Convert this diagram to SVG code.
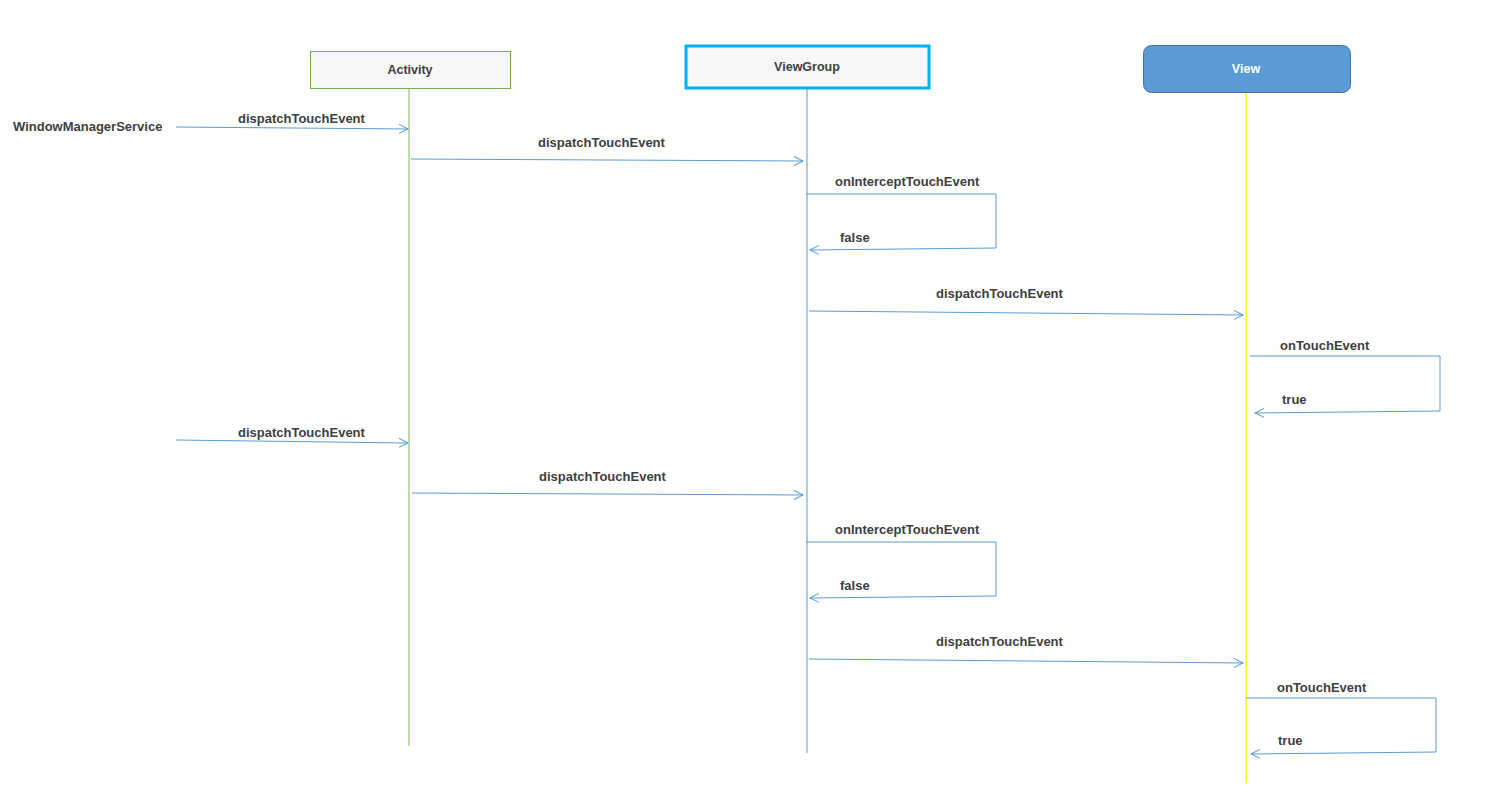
<svg xmlns="http://www.w3.org/2000/svg" width="1490" height="790" viewBox="0 0 1490 790">
  <style>
    .lbl { font-family: "Liberation Sans", Arial, sans-serif; font-size: 13px; font-weight: bold; fill: #404040; }
    .msg { fill: none; stroke: #5b9bd5; stroke-width: 1; marker-end: url(#open); }
    .head { font-family: "Liberation Sans", Arial, sans-serif; font-size: 12.5px; font-weight: bold; text-anchor: middle; }
  </style>
  <defs>
    <marker id="open" markerWidth="12" markerHeight="12" refX="10" refY="5" orient="auto" markerUnits="userSpaceOnUse">
      <polyline points="1,0.5 10,5 1,9.5" fill="none" stroke="#5b9bd5" stroke-width="1"/>
    </marker>
  </defs>
  <rect width="1490" height="790" fill="#ffffff"/>

  <!-- participants with lifelines -->
  <g id="activity">
    <line x1="409" y1="88" x2="409" y2="746" stroke="#a9d18e" stroke-width="1.5"/>
    <rect x="310.5" y="51.5" width="200" height="37" fill="#f7f7f7" stroke="#70ad47" stroke-width="1"/>
    <text class="head" x="410" y="74" fill="#404040">Activity</text>
  </g>
  <g id="viewgroup">
    <line x1="807" y1="89" x2="807" y2="753" stroke="#5b9bd5" stroke-width="1"/>
    <rect x="686" y="46" width="243" height="42" fill="#f7f7f7" stroke="#00b0f0" stroke-width="3"/>
    <text class="head" x="807" y="71" fill="#404040">ViewGroup</text>
  </g>
  <g id="view">
    <line x1="1246" y1="93" x2="1246" y2="783" stroke="#ffff00" stroke-width="1.5"/>
    <rect x="1143.5" y="45.5" width="207" height="47" rx="8" fill="#5b9bd5" stroke="#41719c" stroke-width="1"/>
    <text class="head" x="1246" y="73" fill="#ffffff">View</text>
  </g>
  <g id="wms">
    <text class="lbl" x="13" y="131">WindowManagerService</text>
  </g>

  <!-- messages -->
  <g id="connectors">
    <path class="msg" d="M176,127 L408,129"/>
    <path class="msg" d="M411,159 L803,161"/>
    <path class="msg" d="M806,194 H996 V248 L810,250"/>
    <path class="msg" d="M809,311 L1243,315"/>
    <path class="msg" d="M1250,356 H1440 V411 L1255,413"/>
    <path class="msg" d="M176,440 L408,443"/>
    <path class="msg" d="M412,493 L803,495"/>
    <path class="msg" d="M806,542 H996 V596 L810,598"/>
    <path class="msg" d="M809,659 L1243,663"/>
    <path class="msg" d="M1246,698 H1436 V752 L1251,754"/>
  </g>

  <!-- message labels -->
  <g id="labels">
    <text class="lbl" x="238" y="123">dispatchTouchEvent</text>
    <text class="lbl" x="538" y="147">dispatchTouchEvent</text>
    <text class="lbl" x="835" y="186">onInterceptTouchEvent</text>
    <text class="lbl" x="840" y="242">false</text>
    <text class="lbl" x="936" y="298">dispatchTouchEvent</text>
    <text class="lbl" x="1280" y="350">onTouchEvent</text>
    <text class="lbl" x="1282" y="404">true</text>
    <text class="lbl" x="238" y="437">dispatchTouchEvent</text>
    <text class="lbl" x="539" y="481">dispatchTouchEvent</text>
    <text class="lbl" x="835" y="534">onInterceptTouchEvent</text>
    <text class="lbl" x="840" y="590">false</text>
    <text class="lbl" x="936" y="646">dispatchTouchEvent</text>
    <text class="lbl" x="1277" y="692">onTouchEvent</text>
    <text class="lbl" x="1278" y="745">true</text>
  </g>
</svg>
